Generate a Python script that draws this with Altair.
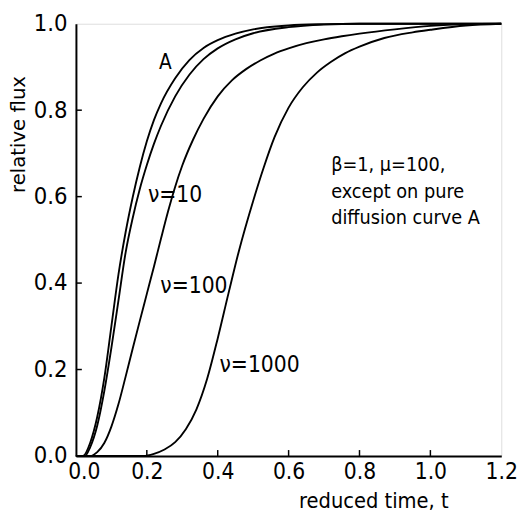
import altair as alt
import pandas as pd

# ---- data ----
t_A = [0.0, 0.02, 0.04, 0.06, 0.08, 0.10, 0.12, 0.14, 0.16, 0.18, 0.20, 0.22, 0.24, 0.28, 0.32, 0.36, 0.40, 0.45, 0.50, 0.60, 0.70, 0.80, 1.0, 1.2]
f_A = [0.0, 0.0, 0.03, 0.09, 0.18, 0.30, 0.42, 0.517, 0.598, 0.668, 0.728, 0.777, 0.816, 0.874, 0.916, 0.944, 0.962, 0.977, 0.987, 0.996, 0.999, 1.0, 1.0, 1.0]

t_10 = [0.0, 0.025, 0.04, 0.06, 0.08, 0.10, 0.12, 0.14, 0.16, 0.18, 0.20, 0.22, 0.24, 0.28, 0.32, 0.36, 0.40, 0.45, 0.50, 0.60, 0.70, 0.80, 1.0, 1.2]
f_10 = [0.0, 0.0, 0.02, 0.07, 0.15, 0.25, 0.36, 0.47, 0.55, 0.617, 0.673, 0.722, 0.764, 0.832, 0.882, 0.918, 0.943, 0.964, 0.978, 0.992, 0.998, 1.0, 1.0, 1.0]

t_100 = [0.0, 0.04, 0.06, 0.08, 0.10, 0.12, 0.14, 0.16, 0.18, 0.20, 0.22, 0.24, 0.26, 0.28, 0.30, 0.33, 0.36, 0.40, 0.44, 0.48, 0.52, 0.56, 0.60, 0.65, 0.70, 0.75, 0.80, 0.90, 1.0, 1.1, 1.2]
f_100 = [0.0, 0.0, 0.009, 0.03, 0.068, 0.12, 0.183, 0.248, 0.312, 0.375, 0.438, 0.503, 0.566, 0.623, 0.672, 0.731, 0.780, 0.832, 0.869, 0.895, 0.915, 0.931, 0.943, 0.955, 0.964, 0.971, 0.977, 0.987, 0.995, 0.999, 1.0]

t_1000 = [0.0, 0.19, 0.22, 0.25, 0.28, 0.31, 0.34, 0.37, 0.40, 0.43, 0.46, 0.50, 0.53, 0.56, 0.60, 0.64, 0.68, 0.72, 0.76, 0.80, 0.87, 0.95, 1.0, 1.1, 1.2]
f_1000 = [0.0, 0.0, 0.005, 0.015, 0.032, 0.062, 0.108, 0.178, 0.272, 0.375, 0.475, 0.59, 0.668, 0.737, 0.806, 0.853, 0.887, 0.912, 0.932, 0.947, 0.967, 0.980, 0.986, 0.996, 1.0]

curve_names = ["A", "v10", "v100", "v1000"]
curve_t = [t_A, t_10, t_100, t_1000]
curve_f = [f_A, f_10, f_100, f_1000]

x_ticks = [0.0, 0.2, 0.4, 0.6, 0.8, 1.0, 1.2]
y_ticks = [0.0, 0.2, 0.4, 0.6, 0.8, 1.0]

label_text = ["ν=10", "ν=100", "ν=1000"]
label_x = [0.203, 0.238, 0.405]
label_y = [0.604, 0.392, 0.21]

note_lines = ["β=1, μ=100,", "except on pure", "diffusion curve A"]
note_x = [0.72, 0.72, 0.72]
note_y = [0.674, 0.610, 0.551]

# ---- build tables ----
rows = []
for name, ts, fs in zip(curve_names, curve_t, curve_f):
    for t, f in zip(ts, fs):
        rows.append({"curve": name, "t": t, "f": f})
df = pd.DataFrame(rows)

FONT = "DejaVu Sans Condensed, DejaVu Sans, sans-serif"
YFONT = "DejaVu Sans, sans-serif"
W, H = 432, 439

xs = alt.Scale(domain=[0, 1.2], nice=False, zero=False)
ys = alt.Scale(domain=[0, 1.0], nice=False)

lines = alt.Chart(df).mark_line(color="black", strokeWidth=1.9, interpolate="monotone").encode(
    x=alt.X("t:Q", scale=xs, axis=alt.Axis(
        values=x_ticks, format=".1f", title="reduced time, t",
        titleX=302, titleY=52, titleBaseline="alphabetic", titleAlign="center",
        titleFontSize=22, titleFontWeight="normal", titleFont=FONT,
        labelPadding=5, labelFontSize=23, labelFont=FONT, labelFlush=False,
        labelOffset={"condition": {"test": "datum.value == 0", "value": 8}, "value": 0},
        ticks=False, grid=False, domainColor="black", domainWidth=2)),
    y=alt.Y("f:Q", scale=ys, axis=alt.Axis(
        values=y_ticks, format=".1f", title="relative flux",
        titleX=-52, titleY=112, titleAngle=270, titleBaseline="alphabetic", titleAlign="center",
        titleFontSize=20, titleFontWeight="normal", titleFont=YFONT,
        labelPadding=9, labelFontSize=24, labelFont=FONT, labelFlush=False,
        ticks=False, grid=False, domainColor="black", domainWidth=2)),
    detail="curve:N",
)

xt = alt.Chart(pd.DataFrame({"v": x_ticks[1:-1]})).mark_rule(color="black", strokeWidth=1.5).encode(
    x=alt.X("v:Q", scale=xs), y=alt.value(H), y2=alt.value(H - 6))
yt = alt.Chart(pd.DataFrame({"v": y_ticks[1:-1]})).mark_rule(color="black", strokeWidth=1.5).encode(
    y=alt.Y("v:Q", scale=ys), x=alt.value(0), x2=alt.value(6))

a_label = alt.Chart(pd.DataFrame({"x": [0.252], "y": [0.909], "s": ["A"]})).mark_text(
    font=FONT, fontSize=21, align="center", baseline="middle", color="black").encode(
    x=alt.X("x:Q", scale=xs), y=alt.Y("y:Q", scale=ys), text="s:N")

nu_labels = alt.Chart(pd.DataFrame({"x": label_x, "y": label_y, "s": label_text})).mark_text(
    font=FONT, fontSize=23, align="left", baseline="middle", color="black").encode(
    x=alt.X("x:Q", scale=xs), y=alt.Y("y:Q", scale=ys), text="s:N")

notes = alt.Chart(pd.DataFrame({"x": note_x, "y": note_y, "s": note_lines})).mark_text(
    font=FONT, fontSize=20, align="left", baseline="middle", color="black").encode(
    x=alt.X("x:Q", scale=xs), y=alt.Y("y:Q", scale=ys), text="s:N")

chart = alt.layer(lines, xt, yt, a_label, nu_labels, notes).properties(
    width=W, height=H,
    autosize=alt.AutoSizeParams(type="none"),
    padding={"left": 69, "top": 12, "right": 18, "bottom": 58},
).configure_view(stroke="black", strokeWidth=2).configure(background="white")

chart.save("out.html", embed_options={"renderer": "svg", "actions": False})
